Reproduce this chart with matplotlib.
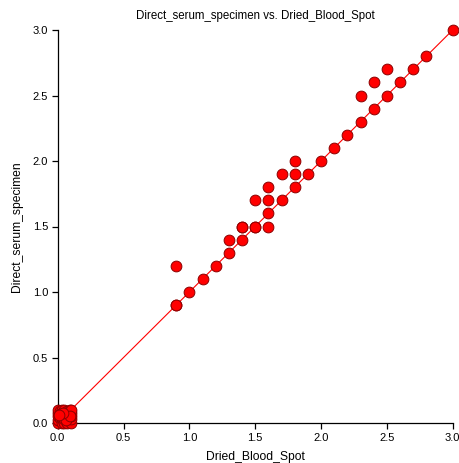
import matplotlib
matplotlib.use("Agg")
import matplotlib.pyplot as plt
import numpy as np

plt.rcParams['font.family'] = ['Liberation Sans', 'DejaVu Sans']

# Main data points (Dried_Blood_Spot, Direct_serum_specimen)
dbs = [0.9, 0.9, 0.9, 1.0, 1.1, 1.2, 1.3, 1.3, 1.4, 1.4, 1.4, 1.5, 1.5, 1.5,
       1.6, 1.6, 1.6, 1.6, 1.7, 1.7, 1.8, 1.8, 1.8, 1.9, 2.0, 2.1, 2.2,
       2.3, 2.3, 2.4, 2.4, 2.5, 2.5, 2.6, 2.7, 2.8, 3.0]
serum = [0.9, 0.9, 1.2, 1.0, 1.1, 1.2, 1.3, 1.4, 1.4, 1.5, 1.5, 1.5, 1.7, 1.5,
         1.5, 1.6, 1.7, 1.8, 1.7, 1.9, 1.8, 1.9, 2.0, 1.9, 2.0, 2.1, 2.2,
         2.3, 2.5, 2.4, 2.6, 2.5, 2.7, 2.6, 2.7, 2.8, 3.0]

# Cluster of near-zero values
dbs_low = [0.0, 0.0, 0.0, 0.0, 0.0, 0.02, 0.02, 0.03, 0.03, 0.03, 0.04, 0.05,
           0.05, 0.05, 0.05, 0.06, 0.07, 0.07, 0.07, 0.08, 0.08, 0.09, 0.1,
           0.1, 0.1, 0.1, 0.1, 0.02, 0.06, 0.09, 0.04, 0.01]
serum_low = [0.0, 0.02, 0.05, 0.08, 0.1, 0.04, 0.09, 0.0, 0.06, 0.1, 0.02, 0.0,
             0.03, 0.07, 0.1, 0.05, 0.0, 0.04, 0.09, 0.02, 0.07, 0.1, 0.0,
             0.03, 0.05, 0.08, 0.1, 0.07, 0.02, 0.05, 0.08, 0.06]

line_x = [0.0, 3.0]
line_y = [0.0, 3.0]

ticks = [0.0, 0.5, 1.0, 1.5, 2.0, 2.5, 3.0]
tick_labels = ["0.0", "0.5", "1.0", "1.5", "2.0", "2.5", "3.0"]

fig = plt.figure(figsize=(4.6, 4.63), dpi=100)
ax = fig.add_axes([57.7/460, 40/463, 395/460, 393/463])

ax.plot(line_x, line_y, color='#ff0000', lw=0.8, zorder=2)
ax.scatter(dbs_low + dbs, serum_low + serum, s=60, facecolor='#ff0000',
           edgecolor='#8b0000', linewidth=0.7, zorder=3, clip_on=False)

ax.set_xlim(0, 3)
ax.set_ylim(0, 3)
ax.set_xticks(ticks)
ax.set_xticklabels(tick_labels)
ax.set_yticks(ticks)
ax.set_yticklabels(tick_labels)
for s in ['top', 'right']:
    ax.spines[s].set_visible(False)
for s in ['left', 'bottom']:
    ax.spines[s].set_linewidth(0.9)
ax.tick_params(axis='both', direction='out', length=4, width=0.9,
               labelsize=8, pad=3, colors='black')

ax.set_title("Direct_serum_specimen vs. Dried_Blood_Spot", fontsize=8.3, pad=8)
ax.set_xlabel("Dried_Blood_Spot", fontsize=8.7, labelpad=6)
ax.set_ylabel("Direct_serum_specimen", fontsize=8.7, labelpad=7)

fig.savefig("out.png", dpi=100)
